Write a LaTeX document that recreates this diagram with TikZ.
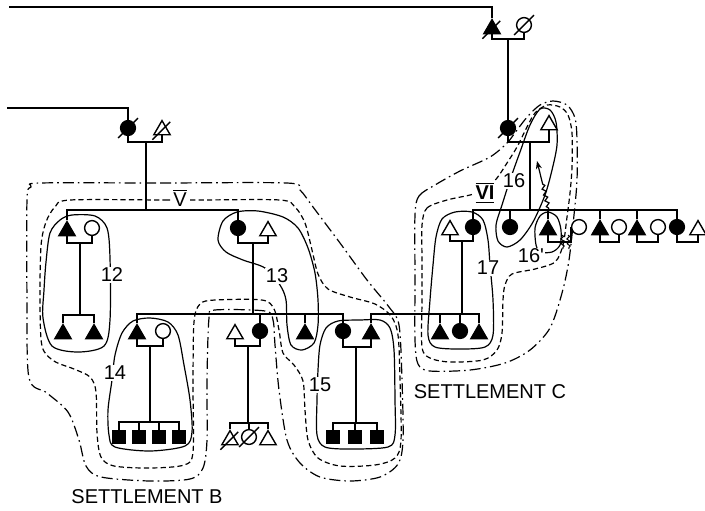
\documentclass[tikz,border=0pt]{standalone}
\usepackage{fontspec}
\newfontfamily\lettering{Liberation Sans}
\usetikzlibrary{arrows.meta,shapes.geometric,decorations.pathmorphing}
\tikzset{
  fem/.style={circle,draw,fill=black,line width=0.7pt,minimum size=7.4pt,inner sep=0pt},
  femo/.style={fem,fill=white},
  mal/.style={regular polygon,regular polygon sides=3,draw,fill=black,line width=0.7pt,minimum size=9.4pt,inner sep=0pt,yshift=-1.5pt},
  malo/.style={mal,fill=white},
  sq/.style={rectangle,draw,fill=black,minimum size=6.4pt,inner sep=0pt},
  kin/.style={line width=0.8pt},
  dead/.style={line width=0.7pt,shorten <=-3pt,shorten >=-3pt},
  ring/.style={line width=0.6pt},
  grp/.style={line width=0.6pt,dash pattern=on 2.6pt off 1.6pt},
  stl/.style={line width=0.6pt,dash pattern=on 5.5pt off 2pt on 0.8pt off 2pt},
  num/.style={font=\fontsize{10}{12}\selectfont\lettering,fill=white,inner sep=0.6pt},
  plain/.style={font=\fontsize{10}{12}\selectfont\lettering,inner sep=0pt},
  wig/.style={line width=0.5pt,decorate,decoration={snake,amplitude=0.7pt,segment length=2.4pt}},
}

\begin{document}
\begin{tikzpicture}[x=0.5pt,y=-0.5pt]
\useasboundingbox (0,0) rectangle (705,510);
% settlements
\draw[stl] plot[smooth cycle] coordinates {(40,183) (160,183) (287,183) (300,190) (313,207) (340,243) (367,280) (389,307) (399,325) (402,380) (403,440) (398,464) (380,477) (350,481) (320,477) (300,463) (287,440) (279,390) (275,345) (273,320) (265,311) (215,310) (209,318) (207,380) (207,440) (203,468) (190,479) (150,481) (101,477) (86,466) (79,440) (68,412) (47,393) (29,378) (27,300) (27,200) (31,187)};
\draw[stl] plot[smooth cycle] coordinates {(415,215) (419,196) (435,185) (460,171) (490,157) (507,143) (517,130) (528,116) (540,105) (553,101) (567,105) (575,118) (577,140) (577,180) (574,215) (569,260) (562,293) (550,328) (530,350) (505,363) (470,370) (430,371) (418,364) (415,340) (415,280)};
% groups V and VI
\draw[grp] plot[smooth cycle] coordinates {(70,200) (165,200) (200,200) (280,200) (295,207) (305,223) (312,250) (318,274) (328,289) (350,297) (375,304) (391,316) (398,335) (400,380) (401,440) (395,458) (375,465) (340,466) (318,458) (308,440) (305,410) (303,381) (294,365) (283,353) (279,330) (274,309) (262,300) (215,300) (200,304) (194,322) (193,385) (193,452) (184,465) (150,468) (114,466) (101,457) (97,433) (96,392) (90,377) (74,369) (54,361) (42,346) (40,300) (41,246) (46,222) (55,207)};
\draw[grp] plot[smooth cycle] coordinates {(422,225) (427,208) (447,200) (470,195) (485,190) (497,178) (507,163) (517,147) (527,127) (535,113) (547,105) (560,107) (568,115) (572,133) (572,167) (570,193) (567,217) (563,245) (555,262) (535,269) (512,274) (505,285) (503,300) (502,333) (497,350) (483,360) (450,362) (430,358) (422,347) (422,300) (422,260)};
% households
\draw[ring] plot[smooth cycle] coordinates {(46,262) (50,233) (60,220) (72,215) (95,216) (107,228) (110,258) (110,320) (104,346) (78,352) (52,346) (43,318) (44,290)};
\draw[ring] plot[smooth cycle] coordinates {(218,240) (223,221) (237,212) (258,211) (283,217) (298,228) (308,248) (315,273) (318,300) (318,325) (314,343) (302,350) (291,345) (287,325) (286,300) (280,285) (265,268) (243,260) (226,252)};
\draw[ring] plot[smooth cycle] coordinates {(133,321) (150,318) (168,322) (178,335) (184,365) (190,400) (192,432) (185,446) (150,451) (115,447) (109,435) (108,410) (112,380) (115,355) (122,333)};
\draw[ring] plot[smooth cycle] coordinates {(320,345) (326,328) (338,321) (360,320) (380,320) (390,328) (394,350) (395,400) (395,435) (388,447) (350,449) (325,447) (317,435) (317,400) (318,370)};
\draw[ring] plot[smooth cycle] coordinates {(540,109) (550,110) (556,122) (557,145) (552,170) (545,195) (533,222) (520,240) (507,247) (498,241) (496,225) (502,205) (510,180) (520,152) (530,125)};
\draw[ring] plot[smooth cycle] coordinates {(536,245) (535,228) (540,216) (548,212) (557,217) (561,230) (560,245) (552,252) (540,252)};
\draw[ring] plot[smooth cycle] coordinates {(436,237) (442,219) (455,212) (472,212) (483,220) (488,240) (490,265) (493,300) (493,335) (485,347) (460,349) (435,347) (428,335) (430,300) (433,265)};

% first generation
\coordinate (top0) at (9,7);
\node[mal] (t1) at (492,26) {};
\node[femo] (t2) at (524,25) {};
\coordinate (bt) at (508,39);
\draw[kin] (top0) -| (t1.north);
\draw[kin] (t1.south) |- (bt) -| (t2.south);

% second generation
\coordinate (lft0) at (7,108);
\node[fem] (g1) at (128,128) {};
\node[malo] (g2) at (162,127) {};
\coordinate (b0) at (146,142);
\node[fem] (g3) at (508,128) {};
\node[malo] (g4) at (549,122) {};
\coordinate (b2) at (530,142);
\draw[kin] (lft0) -| (g1.north);
\draw[kin] (g1.south) |- (b0) -| (g2.south);
\draw[kin] (bt) -- (g3.north);
\draw[kin] (g3.south) |- (b2) -| (g4.south);

% third generation, left
\coordinate (s0) at (146,210);
\node[mal] (l1) at (67,228) {};
\node[femo] (l2) at (92,228) {};
\node[fem] (l3) at (238,228) {};
\node[malo] (l4) at (268,228) {};
\coordinate (b1) at (80,243);
\coordinate (b3) at (253,243);
\draw[kin] (b0) -- (s0);
\draw[kin] (l1.north) |- (s0) -| (l3.north);
\draw[kin] (l1.south) |- (b1) -| (l2.south);
\draw[kin] (l3.south) |- (b3) -| (l4.south);
\coordinate (s7) at (80,315);
\node[mal] (k1) at (63,331) {};
\node[mal] (k2) at (94,331) {};
\draw[kin] (b1) -- (s7);
\draw[kin] (k1.north) |- (s7) -| (k2.north);

% third generation, right
\coordinate (s2) at (530,210);
\node[malo] (r1) at (450,227) {};
\node[fem] (r2) at (473,227) {};
\node[fem] (r3) at (510,227) {};
\node[mal] (r4) at (548,227) {};
\node[femo] (r5) at (579,227) {};
\node[mal] (r6) at (600,227) {};
\node[femo] (r7) at (619,227) {};
\node[mal] (r8) at (637,227) {};
\node[femo] (r9) at (658,227) {};
\node[fem] (r10) at (677,227) {};
\node[malo] (r11) at (698,227) {};
\draw[kin] (b2) -- (s2);
\draw[kin] (r2.north) |- (s2) -| (r10.north);
\foreach \k in {r3,r4,r6,r8} \draw[kin] (\k.north) -- (\k.north |- s2);
\coordinate (br1) at (462,241);
\coordinate (br4) at (560,242);
\coordinate (br6) at (609,242);
\coordinate (br8) at (647,242);
\coordinate (br10) at (687,242);
\draw[kin] (r1.south) |- (br1) -| (r2.south);
\draw[kin] (r4.south) |- (br4) -| (r5.west);
\draw[kin] (r6.south) |- (br6) -| (r7.south);
\draw[kin] (r8.south) |- (br8) -| (r9.south);
\draw[kin] (r10.south) |- (br10) -| (r11.south);
\draw[wig] (562,235) -- (563,249);
\draw[wig] (568,235) -- (569,249);
\coordinate (w0) at (549,210);
\coordinate (w1) at (537,161);
\draw[line width=0.6pt,-{Stealth[length=4pt,width=3pt]},decorate,decoration={snake,amplitude=0.9pt,segment length=3pt,pre length=1pt,post length=11pt}] (w0) -- (w1);

% fourth generation
\coordinate (s1) at (253,314);
\node[mal] (m1) at (137,331) {};
\node[femo] (m2) at (163,331) {};
\node[malo] (m0) at (235,331) {};
\node[fem] (m3) at (260,331) {};
\node[mal] (m4) at (305,331) {};
\node[fem] (m5) at (343,331) {};
\node[mal] (m6) at (371,331) {};
\draw[kin] (b3) -- (s1);
\draw[kin] (m1.north) |- (s1) -| (m5.north);
\foreach \k in {m3,m4} \draw[kin] (\k.north) -- (\k.north |- s1);
\coordinate (s3) at (462,314);
\node[mal] (n1) at (440,331) {};
\node[fem] (n2) at (460,331) {};
\node[mal] (n3) at (479,331) {};
\draw[kin] (br1) -- (s3);
\draw[kin] (m6.north) |- (s3) -| (n3.north);
\foreach \k in {n1,n2} \draw[kin] (\k.north) -- (\k.north |- s3);
\coordinate (b4) at (150,346);
\coordinate (b5) at (248,346);
\coordinate (b6) at (356,347);
\draw[kin] (m1.south) |- (b4) -| (m2.south);
\draw[kin] (m0.south) |- (b5) -| (m3.south);
\draw[kin] (m5.south) |- (b6) -| (m6.south);

% fifth generation
\coordinate (s4) at (150,422);
\foreach \i/\x in {1/119,2/139,3/159,4/179} \node[sq] (q\i) at (\x,437) {};
\draw[kin] (b4) -- (s4);
\draw[kin] (q1.north) |- (s4) -| (q4.north);
\foreach \k in {q2,q3} \draw[kin] (\k.north) -- (\k.north |- s4);
\coordinate (s5) at (248,423);
\node[malo] (p1) at (230,437) {};
\node[femo] (p2) at (249,437) {};
\node[malo] (p3) at (268,437) {};
\draw[kin] (b5) -- (s5);
\draw[kin] (p1.north) |- (s5) -| (p3.north);
\draw[kin] (p2.north) -- (p2.north |- s5);
\coordinate (s6) at (356,423);
\foreach \i/\x in {5/333,6/355,7/377} \node[sq] (q\i) at (\x,437) {};
\draw[kin] (b6) -- (s6);
\draw[kin] (q5.north) |- (s6) -| (q7.north);
\draw[kin] (q6.north) -- (q6.north |- s6);

% deceased
\foreach \k in {t1,t2,g1,g2,g3,p1,p2} \draw[dead] (\k.225) -- (\k.45);

% labels
\node[num] (n12) at (112,275) {12};
\node[num] (n13) at (277,276) {13};
\node[num] (n14) at (115,373) {14};
\node[num] (n15) at (320,385) {15};
\node[num] (n16) at (514,181) {16};
\node[num] (n16b) at (531,256) {16'};
\node[num] (n17) at (488,268) {17};
\node[num] (nV) at (180,198) {$\overline{\hbox{\lettering V}}$};
\node[num] (nVI) at (485,193) {$\underline{\overline{\hbox{\lettering\bfseries VI}}}$};
\node[plain] (stB) at (147,497) {SETTLEMENT B};
\node[plain] (stC) at (490,392) {SETTLEMENT C};
\end{tikzpicture}
\end{document}
